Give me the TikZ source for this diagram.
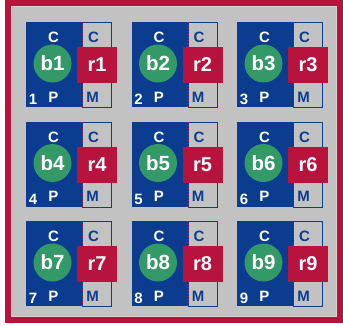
\documentclass[tikz,border=0pt]{standalone}
\usepackage{fontspec}
\setmainfont{Liberation Sans}
\definecolor{frame}{HTML}{B8133C}
\definecolor{bg}{HTML}{C2C2C2}
\definecolor{bluec}{HTML}{0B3C8F}
\definecolor{greenc}{HTML}{339966}
\definecolor{redc}{HTML}{B8133C}
\definecolor{edge}{HTML}{D6D6D6}
\tikzset{
  bluebox/.style={fill=bluec, draw=none, minimum width=56pt, minimum height=85pt, inner sep=0, anchor=north west},
  sidebox/.style={fill=bg, draw=bluec, line width=1.1pt, minimum width=29pt, minimum height=85pt, inner sep=0, anchor=north west},
  ball/.style={circle, fill=greenc, minimum size=38pt, inner sep=0, text=white, font=\bfseries\fontsize{20.5}{20.5}\selectfont},
  regbox/.style={fill=redc, minimum width=40pt, minimum height=36pt, inner sep=0, text=white, font=\bfseries\fontsize{20}{20}\selectfont},
  wlabel/.style={text=white, inner sep=0, font=\bfseries\fontsize{15}{15}\selectfont},
  blabel/.style={text=bluec, inner sep=0, font=\bfseries\fontsize{15}{15}\selectfont},
  dotline/.style={draw=redc, line width=1.4pt, dash pattern=on 1.3pt off 1.7pt},
}
\begin{document}
\begin{tikzpicture}[x=1pt,y=-1pt]
\useasboundingbox (0,0) rectangle (343,325);
\fill[white] (0,0) rectangle (343,325);
\draw[frame, line width=6pt] (7.5,3) rectangle (340,319.5);
\fill[bg] (10.5,6) rectangle (337,316.5);
\draw[edge, line width=1pt] (11,6.5) rectangle (336.5,316);
\foreach \i in {0,1,2}{
  \foreach \j in {0,1,2}{
    \pgfmathsetmacro{\xo}{26+105.5*\i}
    \pgfmathsetmacro{\yo}{22+99.5*\j}
    \pgfmathtruncatemacro{\n}{1+\i+3*\j}
    \node[bluebox] (blue\n) at (\xo,\yo) {};
    \node[sidebox] (side\n) at (\xo+56,\yo) {};
    \draw[dotline] (blue\n.north east) -- (blue\n.south east);
    \node[ball] (b\n) at (\xo+26.5,\yo+41.5) {b\n};
    \node[wlabel] (tc\n) at (\xo+27.5,\yo+15.5) {C};
    \node[wlabel] (tp\n) at (\xo+27.5,\yo+75) {P};
    \node[wlabel] (num\n) at (\xo+7,\yo+77.5) {\n};
    \node[blabel] (sc\n) at (\xo+67.5,\yo+15.5) {C};
    \node[blabel] (sm\n) at (\xo+66.5,\yo+75) {M};
    \node[regbox] (r\n) at (\xo+71,\yo+43) {r\n};
  }
}
\end{tikzpicture}
\end{document}
